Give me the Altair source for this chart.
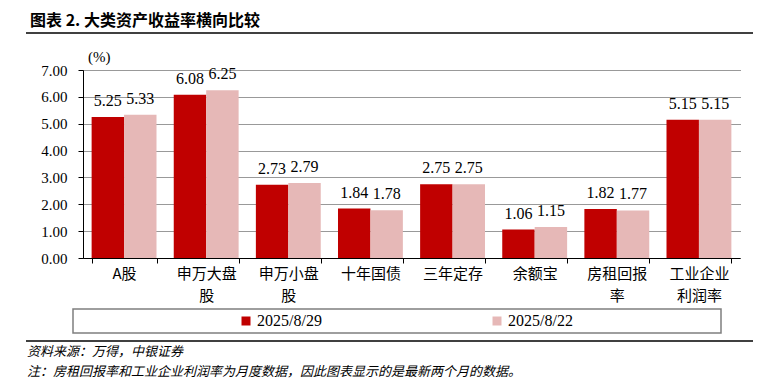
import altair as alt
import pandas as pd

categories = ["A股", "申万大盘股", "申万小盘股", "十年国债", "三年定存", "余额宝", "房租回报率", "工业企业利润率"]
series = ["2025/8/29", "2025/8/22"]
values_0829 = [5.25, 6.08, 2.73, 1.84, 2.75, 1.06, 1.82, 5.15]
values_0822 = [5.33, 6.25, 2.79, 1.78, 2.75, 1.15, 1.77, 5.15]
colors = ["#C00000", "#E6B8B7"]
y_ticks = [0, 1, 2, 3, 4, 5, 6, 7]
title_text = "图表 2. 大类资产收益率横向比较"
unit_text = "(%)"
source_text = "资料来源：万得，中银证券"
note_text = "注：房租回报率和工业企业利润率为月度数据，因此图表显示的是最新两个月的数据。"

rows = []
for s, vals in zip(series, [values_0829, values_0822]):
    for c, v in zip(categories, vals):
        rows.append({"category": c, "series": s, "value": v})
df = pd.DataFrame(rows)

W, H = 657, 188
CJK = "Noto Sans CJK SC"
SERIF = "Liberation Serif"

x_enc = alt.X(
    "category:N", sort=categories,
    scale=alt.Scale(paddingInner=0.21, paddingOuter=0.105),
    axis=alt.Axis(
        title=None, labelAngle=0,
        labelExpr="length(datum.label) > 4 ? [substring(datum.label, 0, 4), substring(datum.label, 4)] : datum.label",
        labelFont=CJK, labelFontSize=15, labelLineHeight=22, labelColor="black",
        labelPadding=3, labelBaseline="top", tickBand="extent", tickSize=5,
        tickColor="black", domainColor="black", labelLimit=0,
    ),
)
y_enc = alt.Y(
    "value:Q",
    scale=alt.Scale(domain=[0, 7], nice=False),
    axis=alt.Axis(
        values=y_ticks, format=".2f", title=None, grid=True, gridDash=[1, 1],
        gridColor="#333333", tickSize=5, tickColor="black", domainColor="black",
        labelFont=SERIF, labelFontSize=15, labelPadding=11, labelColor="black",
        labelOverlap=False, labelFlush=False,
    ),
)
xoff = alt.XOffset("series:N", sort=series, scale=alt.Scale(paddingInner=0, paddingOuter=0))

base = alt.Chart(df)
bars = base.mark_bar().encode(
    x=x_enc, y=y_enc, xOffset=xoff,
    color=alt.Color(
        "series:N", sort=series, scale=alt.Scale(domain=series, range=colors),
        legend=alt.Legend(
            title=None, orient="none", legendX=155, legendY=243, direction="horizontal",
            symbolType="square", symbolSize=81, symbolStrokeWidth=0,
            labelFont=SERIF, labelFontSize=16, labelColor="black",
            columnPadding=167, labelOffset=3, padding=0,
        ),
    ),
)
labels = base.mark_text(font=SERIF, fontSize=16, baseline="bottom", dy=-8, color="black").encode(
    x=x_enc, y=y_enc, xOffset=xoff,
    text=alt.Text("value:Q", format=".2f"),
)

one = pd.DataFrame({"a": [0]})
def txt(t, x, y, **kw):
    return alt.Chart(pd.DataFrame({"t": [t]})).mark_text(align="left", baseline="middle", color="black", **kw).encode(
        text="t:N", x=alt.value(x), y=alt.value(y))

title = txt(title_text, -53, -49, font=CJK, fontSize=16, fontWeight="bold")
unit = txt(unit_text, 5, -13, font=SERIF, fontSize=15)
src = txt(source_text, -56, 282, font=CJK, fontSize=13, fontStyle="italic")
note = txt(note_text, -56, 302, font=CJK, fontSize=13, fontStyle="italic")
top_rule = alt.Chart(one).mark_rule(color="black", strokeWidth=1.5).encode(
    x=alt.value(-57), x2=alt.value(670), y=alt.value(-37))
bot_rule = alt.Chart(one).mark_rule(color="black", strokeWidth=1.5).encode(
    x=alt.value(-57), x2=alt.value(670), y=alt.value(271))
legend_box = alt.Chart(one).mark_rect(fillOpacity=0, stroke="#7f7f7f", strokeWidth=1.5).encode(
    x=alt.value(-10), x2=alt.value(638), y=alt.value(239), y2=alt.value(263))

chart = alt.layer(bars, labels, title, unit, src, note, top_rule, bot_rule, legend_box).properties(
    width=W, height=H,
    padding={"left": 75, "top": 62, "right": 24, "bottom": 124},
    autosize=alt.AutoSizeParams(type="none"),
).configure_view(stroke=None)

chart.save("out.html", embed_options={"renderer": "svg", "actions": False})
